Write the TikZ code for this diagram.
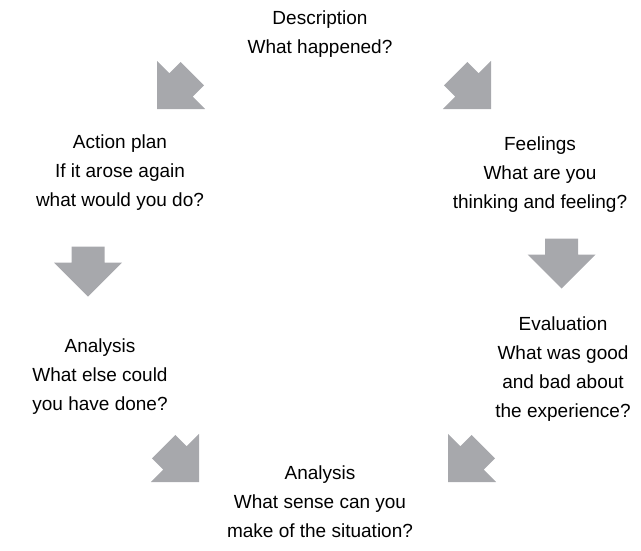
\documentclass[tikz,border=0pt]{standalone}
\usepackage{fontspec}
\setmainfont{Liberation Sans}
\definecolor{arrowgrey}{RGB}{167,168,172}
\tikzset{
  lbl/.style={align=center, inner sep=0pt, font=\fontsize{19}{29}\selectfont, text=black},
  blockarrow/.style={fill=arrowgrey, draw=none}
}
\newcommand{\myarrow}[3]{%
  \begin{scope}[shift={(#1,#2)}, rotate=#3]
    \fill[blockarrow] (0,0) -- (-34,-34) -- (-16.5,-34) -- (-16.5,-50) -- (16.5,-50) -- (16.5,-34) -- (34,-34) -- cycle;
  \end{scope}}
\begin{document}
\begin{tikzpicture}[x=1pt, y=-1pt]
\useasboundingbox (0,0) rectangle (641,550);
\node[lbl] (desc) at (320,34) {Description\\What happened?};
\node[lbl] (feel) at (540,175) {Feelings\\What are you\\thinking and feeling?};
\node[lbl] (eval) at (563,369) {Evaluation\\What was good\\and bad about\\the experience?};
\node[lbl] (anab) at (320,502) {Analysis\\What sense can you\\make of the situation?};
\node[lbl] (anal) at (100,377) {Analysis\\What else could\\you have done?};
\node[lbl] (plan) at (120,173) {Action plan\\If it arose again\\what would you do?};
\myarrow{157}{109}{-45}
\myarrow{491}{109}{45}
\myarrow{561.7}{288.5}{0}
\myarrow{88}{296.7}{0}
\myarrow{448}{482}{-45}
\myarrow{199}{482}{45}
\end{tikzpicture}
\end{document}
